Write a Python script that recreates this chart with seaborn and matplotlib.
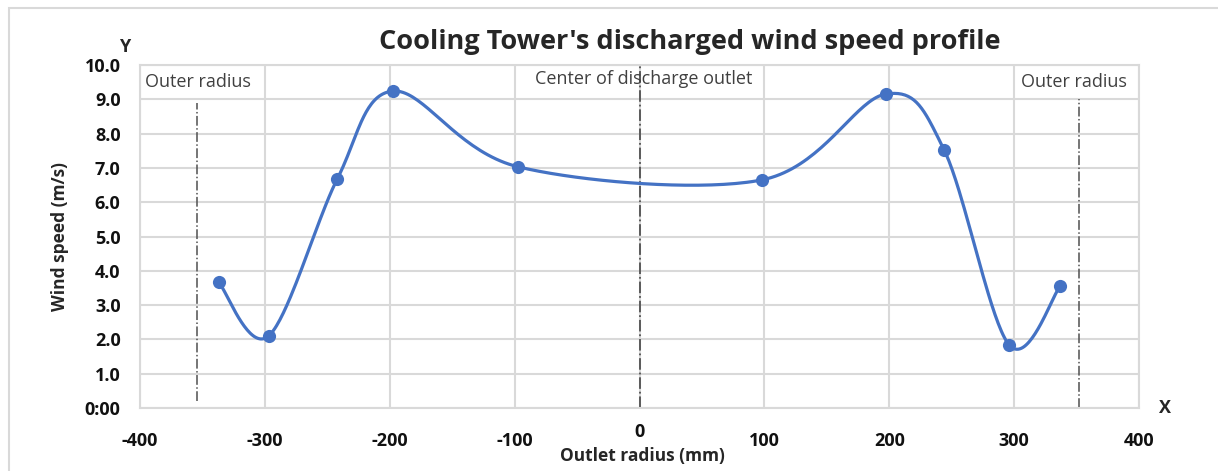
import matplotlib
matplotlib.use("Agg")
import matplotlib.pyplot as plt
import matplotlib.patches as patches
import matplotlib.transforms as mtransforms
import numpy as np
import pandas as pd
import seaborn as sns

# wind speed samples across the outlet
radius_mm = [-337, -297, -242, -197, -97, 98, 197, 244, 296, 337]
wind_speed = [3.67, 2.10, 6.68, 9.24, 7.03, 6.65, 9.15, 7.52, 1.84, 3.56]

outer_radius = [-354, 352]
x_ticks = [-400, -300, -200, -100, 0, 100, 200, 300, 400]
y_ticks = [0, 1, 2, 3, 4, 5, 6, 7, 8, 9, 10]
y_tick_labels = ["0:00", "1.0", "2.0", "3.0", "4.0", "5.0", "6.0", "7.0", "8.0", "9.0", "10.0"]

LINE_BLUE = "#4472C4"
GRID = "#d9d9d9"


def smooth_curve(xs, ys, steps=40):
    """Excel-style smoothed line: cubic bezier with catmull-rom handles."""
    pts = np.column_stack([xs, ys]).astype(float)
    n = len(pts)
    out = []
    t = np.linspace(0, 1, steps)[:, None]
    for i in range(n - 1):
        p0 = pts[max(i - 1, 0)]
        p1 = pts[i]
        p2 = pts[i + 1]
        p3 = pts[min(i + 2, n - 1)]
        c1 = p1 + (p2 - p0) / 6
        c2 = p2 - (p3 - p1) / 6
        seg = ((1 - t) ** 3) * p1 + 3 * ((1 - t) ** 2) * t * c1 + 3 * (1 - t) * t ** 2 * c2 + t ** 3 * p2
        out.append(seg if i == 0 else seg[1:])
    curve = np.vstack(out)
    return curve[:, 0], curve[:, 1]


df = pd.DataFrame({"radius": radius_mm, "speed": wind_speed})

sns.set_theme(style="white")
plt.rcParams["font.family"] = ["Open Sans", "DejaVu Sans"]
plt.rcParams["axes.unicode_minus"] = False

fig = plt.figure(figsize=(12.18, 4.71), dpi=100)
ax = fig.add_axes([140 / 1218, 1 - 408 / 471, 999 / 1218, 343 / 471])

# chart frame
fig.patches.append(patches.Rectangle((9 / 1218, -0.1), 1.2, 1 - 8 / 471 + 0.1,
                                     transform=fig.transFigure, fill=False,
                                     edgecolor=GRID, linewidth=1.5))

cx, cy = smooth_curve(df["radius"], df["speed"])
ax.plot(cx, cy, color=LINE_BLUE, linewidth=2.3, zorder=3)
sns.scatterplot(data=df, x="radius", y="speed", ax=ax, color=LINE_BLUE,
                s=90, edgecolor=LINE_BLUE, linewidth=0, zorder=4, legend=False)

# reference lines
ax.axvline(outer_radius[0], ymin=0.02, ymax=0.89, color="#505050", linestyle="-.", linewidth=1.1, zorder=2)
ax.axvline(0, ymin=0, ymax=1, color="#505050", linestyle="-.", linewidth=1.3, zorder=2)
ax.axvline(outer_radius[1], ymin=0, ymax=0.9, color="#505050", linestyle="-.", linewidth=1.1, zorder=2)

ax.text(-396, 9.5, "Outer radius", fontsize=13, color="#404040", va="center", ha="left")
ax.text(3, 9.6, "Center of discharge outlet", fontsize=13, color="#404040", va="center", ha="center")
ax.text(-4 + 394, 9.5, "Outer radius", fontsize=13, color="#404040", va="center", ha="right")

ax.set_xlim(-400, 400)
ax.set_ylim(0, 10)
ax.set_xticks(x_ticks)
ax.set_yticks(y_ticks)
ax.set_yticklabels(y_tick_labels)
ax.grid(True, color=GRID, linewidth=1.5)
for side in ["left", "right", "top", "bottom"]:
    ax.spines[side].set_color(GRID)
    ax.spines[side].set_linewidth(1.5)
ax.tick_params(axis="x", length=0, pad=17, labelsize=13)
ax.tick_params(axis="y", length=0, pad=14, labelsize=13)
for lab in ax.get_xticklabels() + ax.get_yticklabels():
    lab.set_fontweight("bold")
    lab.set_color("#111111")

# the "0" label sits a little higher, clear of the axis title
zero_lab = ax.get_xticklabels()[x_ticks.index(0)]
zero_lab.set_transform(zero_lab.get_transform() + mtransforms.ScaledTranslation(0, 6 / 72, fig.dpi_scale_trans))

ax.set_xlabel("Outlet radius (mm)", fontsize=12.5, fontweight="bold", labelpad=0)
ax.set_ylabel("Wind speed (m/s)", fontsize=12.5, fontweight="bold", labelpad=6)
ax.xaxis.set_label_coords(0.503, -0.115)
ax.yaxis.set_label_coords(-0.0715, 0.5)

fig.text(125 / 1218, 1 - 47 / 471, "Y", fontsize=13, fontweight="bold", ha="center", va="center")
fig.text(1165 / 1218, 1 - 408 / 471, "X", fontsize=13, fontweight="bold", ha="center", va="center")
fig.text(690 / 1218, 1 - 42 / 471, "Cooling Tower's discharged wind speed profile",
         fontsize=19.5, fontweight="bold", ha="center", va="center")

fig.savefig("out.png", dpi=100)
